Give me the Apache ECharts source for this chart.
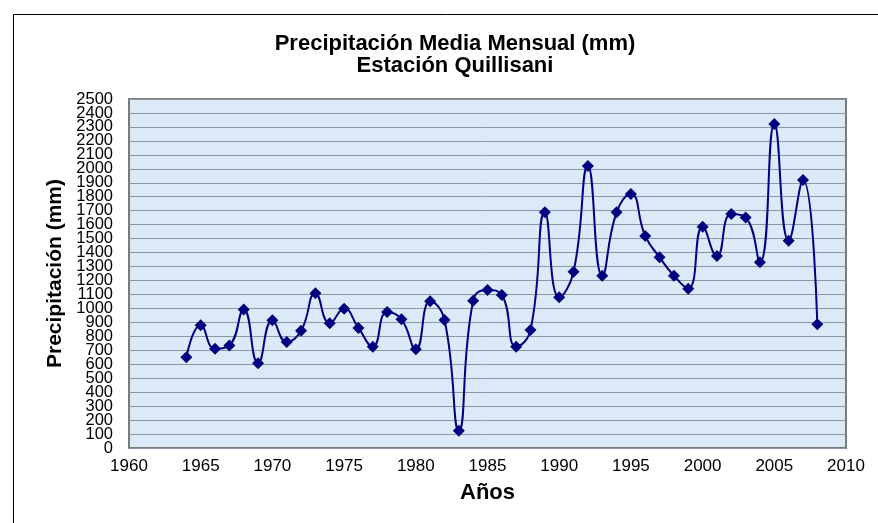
<!DOCTYPE html>
<html>
<head>
<meta charset="utf-8">
<script src="https://cdn.jsdelivr.net/npm/echarts@6/dist/echarts.min.js"></script>
<style>html,body{margin:0;padding:0;background:#fff;}#c{width:878px;height:523px;}</style>
</head>
<body>
<div id="c"></div>
<script>
const years = [1964,1965,1966,1967,1968,1969,1970,1971,1972,1973,1974,1975,1976,1977,1978,1979,1980,1981,1982,1983,1984,1985,1986,1987,1988,1989,1990,1991,1992,1993,1994,1995,1996,1997,1998,1999,2000,2001,2002,2003,2004,2005,2006,2007,2008];
const precip = [650,879,711,735,993,607,915,759,840,1108,893,998,860,726,974,922,707,1051,917,124,1055,1132,1096,726,845,1688,1079,1263,2020,1234,1688,1819,1519,1366,1234,1141,1585,1375,1676,1652,1330,2321,1485,1920,886];
const titleLines = ['Precipitación Media Mensual (mm)', 'Estación Quillisani'];
const yName = 'Precipitación (mm)';
const xName = 'Años';
const yMin = 0, yMax = 2500, yStep = 100;

const FONT = "'Liberation Sans', Arial, sans-serif";
const yLabelStyle = { fontFamily: FONT, fontSize: 16.5, color: '#000', margin: 16, formatter: v => String(v) };
const chart = echarts.init(document.getElementById('c'));
chart.setOption({
  animation: false,
  backgroundColor: '#ffffff',
  title: {
    text: titleLines.join('\n'),
    left: 450, top: 28, textAlign: 'center',
    textStyle: { fontFamily: FONT, fontSize: 22, fontWeight: 'bold', color: '#000', lineHeight: 22 }
  },
  graphic: [{
    type: 'rect', left: 11, top: 12, shape: { width: 900, height: 600 },
    style: { fill: 'none', stroke: '#000', lineWidth: 1 }, silent: true, z: -1
  }],
  grid: {
    left: 129, top: 99, right: 32, bottom: 75,
    show: true, backgroundColor: '#dce9f7', borderColor: '#7a7a7a', borderWidth: 2
  },
  xAxis: {
    type: 'value', min: 1960, max: 2010, interval: 5,
    name: xName, nameLocation: 'middle', nameGap: 34,
    nameTextStyle: { fontFamily: FONT, fontSize: 22, fontWeight: 'bold', color: '#000' },
    axisLine: { show: false }, axisTick: { show: false }, splitLine: { show: false },
    axisLabel: { fontFamily: FONT, fontSize: 17, color: '#000', margin: 10,
      showMinLabel: true, showMaxLabel: true, formatter: v => String(v) }
  },
  yAxis: [{
    type: 'value', min: yMin, max: yMax, interval: yStep, position: 'left',
    name: yName, nameLocation: 'middle', nameGap: 62,
    nameTextStyle: { fontFamily: FONT, fontSize: 21, fontWeight: 'bold', color: '#000' },
    axisLine: { show: false }, axisTick: { show: false },
    splitLine: { show: true, lineStyle: { color: '#8c96a4', width: 1 } },
    axisLabel: Object.assign({ showMinLabel: false, showMaxLabel: false }, yLabelStyle)
  }, {
    type: 'value', min: yMin, max: yMax, interval: yMax - yMin, position: 'left', offset: 0,
    axisLine: { show: false }, axisTick: { show: false }, splitLine: { show: false },
    axisLabel: Object.assign({ showMinLabel: true, showMaxLabel: true }, yLabelStyle)
  }],
  series: [{
    type: 'line',
    yAxisIndex: 0,
    data: years.map((y, i) => [y, precip[i]]),
    smooth: 0.5,
    symbol: 'diamond', symbolSize: 12,
    lineStyle: { color: '#000080', width: 2 },
    itemStyle: { color: '#000080' }
  }]
});
</script>
</body>
</html>
